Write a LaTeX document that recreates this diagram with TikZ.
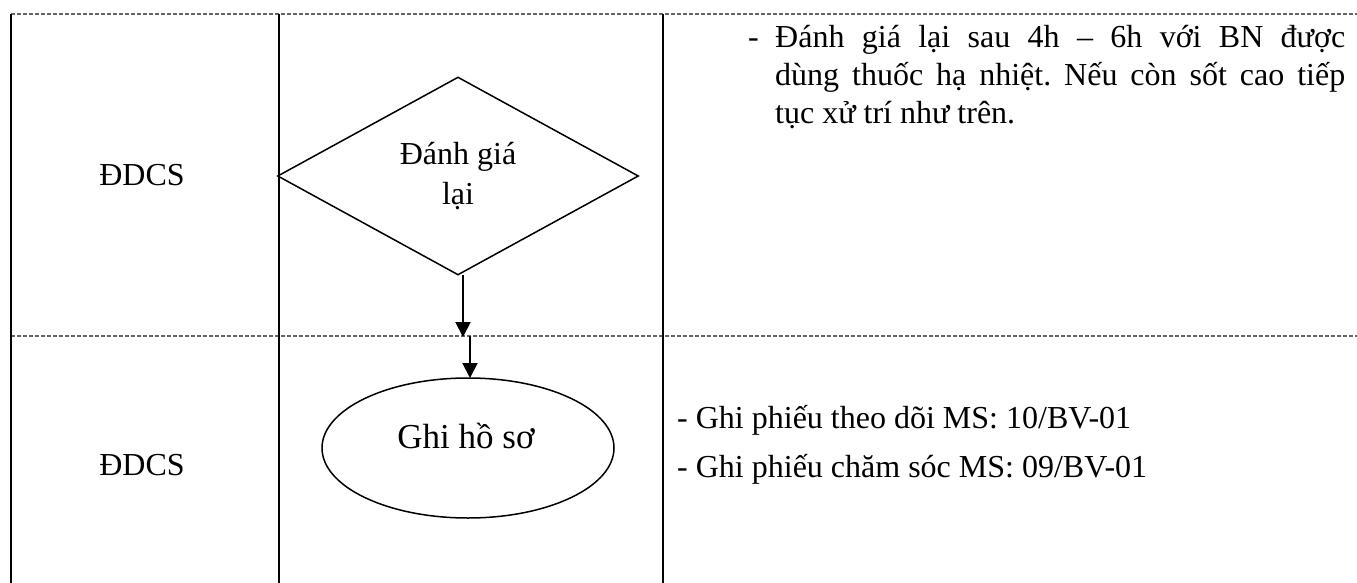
\documentclass[tikz,border=0pt]{standalone}
\usepackage{fontspec}
\setmainfont{Liberation Serif}
\frenchspacing
\usetikzlibrary{shapes.geometric,arrows.meta}
\begin{document}
\begin{tikzpicture}[x=1pt,y=-1pt,
  grid/.style={line width=2pt,black},
  sep/.style={line width=1.2pt,gray!80!black,dash pattern=on 4pt off 2pt},
  arr/.style={line width=2pt,-{Triangle[length=15pt,width=15pt]}},
  txt/.style={inner sep=0pt,font=\fontsize{32}{40}\selectfont},
  lbl/.style={inner sep=0pt,anchor=base west,font=\fontsize{32}{38}\selectfont}]
\useasboundingbox (0,0) rectangle (1357,583);
% grid
\draw[sep] (11,14) -- (1357,14);
\draw[sep] (11,336) -- (1357,336);
\draw[grid] (11,14) -- (11,583);
\draw[grid] (279,14) -- (279,583);
\draw[grid] (663,14) -- (663,583);
% diamond
\node[draw,line width=1.5pt,diamond,minimum width=361pt,minimum height=198pt,aspect=1.82,inner sep=0pt] (d) at (458,176) {};
\node[txt,align=center] (dt) at (458,176) {Đánh giá\\lại};
% ellipse
\node[draw,line width=1.5pt,ellipse,minimum width=292pt,minimum height=140pt,inner sep=0pt] (e) at (468,448) {};
\node[txt,font=\fontsize{35}{40}\selectfont] (et) at (466,436) {Ghi hồ sơ};
% arrows
\coordinate (a1s) at (463,275);
\coordinate (m1) at (463,337);
\coordinate (a2s) at (470,336);
\coordinate (a2e) at (470,378);
\draw[arr] (a1s) -- (m1);
\draw[arr] (a2s) -- (a2e);
% left labels
\node[txt] (r1) at (142,175) {ĐDCS};
\node[txt] (r2) at (142,465) {ĐDCS};
% right texts
\node[lbl] (t0) at (748,48) {-};
\node[lbl] (t1) at (775,48) {\makebox[570pt][s]{Đánh giá lại sau 4h – 6h với BN được}};
\node[lbl] (t2) at (775,86) {\makebox[570pt][s]{dùng thuốc hạ nhiệt. Nếu còn sốt cao tiếp}};
\node[lbl] (t3) at (775,124) {tục xử trí như trên.};
\node[lbl] (b1) at (677,428) {- Ghi phiếu theo dõi MS: 10/BV-01};
\node[lbl] (b2) at (677,477) {- Ghi phiếu chăm sóc MS: 09/BV-01};
\end{tikzpicture}
\end{document}
